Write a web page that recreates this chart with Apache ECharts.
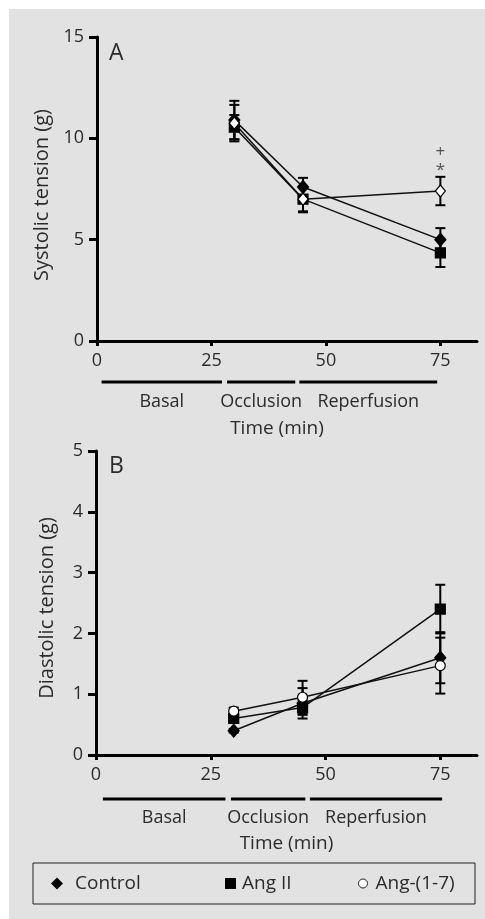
<!DOCTYPE html>
<html><head><meta charset="utf-8">
<script src="https://cdn.jsdelivr.net/npm/echarts@6/dist/echarts.min.js"></script>
<style>html,body{margin:0;padding:0;background:#fff}#c{width:485px;height:919px}</style>
</head><body><div id="c"></div>
<script>
// ---- data ----
const times = [30, 45, 75];
const xTicks = [0, 25, 50, 75];
// Panel A: systolic tension (g)
const sysControl = [10.9, 7.6, 5.0];
const sysControlErr = [0.95, 0.45, 0.57];
const sysAngII = [10.55, 7.0, 4.35];
const sysAngIIErr = [0.6, 0.6, 0.7];
const sysAng17 = [10.75, 7.0, 7.4];
const sysAng17Err = [0.9, 0.65, 0.7];
const sysTicks = [0, 5, 10, 15];
const sysMarks = [[75, 9.3, '+'], [75, 8.45, '*']];
const sysPhases = [[1, 27.3, 'Basal'], [28.4, 43.3, 'Occlusion'], [44.2, 74.3, 'Reperfusion']];
// Panel B: diastolic tension (g)
const diaControl = [0.4, 0.85, 1.6];
const diaControlErr = [0.03, 0.25, 0.42];
const diaAngII = [0.6, 0.78, 2.4];
const diaAngIIErr = [0.05, 0.12, 0.4];
const diaAng17 = [0.72, 0.95, 1.47];
const diaAng17Err = [0.06, 0.27, 0.46];
const diaTicks = [0, 1, 2, 3, 4, 5];
const diaPhases = [[1.5, 28.2, 'Basal'], [29.4, 45.6, 'Occlusion'], [46.6, 75.4, 'Reperfusion']];

const FONT = '"Open Sans", "Liberation Sans", sans-serif';
const TXT = '#2b2b2b';
const chart = echarts.init(document.getElementById('c'));

function pts(vals){ return times.map((t,i)=>[t, vals[i]]); }
function errs(vals, e){ return times.map((t,i)=>[t, vals[i]-e[i], vals[i]+e[i]]); }

function errSeries(name, gi, vals, e){
  return {
    type:'custom', name:name, xAxisIndex:gi, yAxisIndex:gi, z:3,
    data: errs(vals, e), clip:false,
    renderItem:function(params, api){
      const x=api.value(0), lo=api.value(1), hi=api.value(2);
      const a=api.coord([x,hi]), b=api.coord([x,lo]); const w=5;
      const st={stroke:'#000', lineWidth:2};
      return {type:'group', children:[
        {type:'line', shape:{x1:a[0],y1:a[1],x2:b[0],y2:b[1]}, style:st},
        {type:'line', shape:{x1:a[0]-w,y1:a[1],x2:a[0]+w,y2:a[1]}, style:st},
        {type:'line', shape:{x1:b[0]-w,y1:b[1],x2:b[0]+w,y2:b[1]}, style:st}
      ]};
    }
  };
}
function lineSeries(name, gi, vals, symbol, size, fill, z){
  return {
    type:'line', name:name, xAxisIndex:gi, yAxisIndex:gi, data:pts(vals), z:z,
    symbol:symbol, symbolSize:size, showSymbol:true,
    lineStyle:{color:'#111', width:1.5},
    itemStyle:{color:fill, borderColor:'#000', borderWidth:1.2, opacity:1},
    emphasis:{disabled:true}
  };
}
function phaseSeries(gi, phases, barOff, textOff){
  return {
    type:'custom', xAxisIndex:gi, yAxisIndex:gi, clip:false, silent:true, z:5,
    data: phases,
    renderItem:function(params, api){
      const s=api.value(0), e=api.value(1);
      const p0=api.coord([s,0]), p1=api.coord([e,0]);
      const y=p0[1]+barOff;
      return {type:'group', children:[
        {type:'line', shape:{x1:p0[0],y1:y,x2:p1[0],y2:y}, style:{stroke:'#000', lineWidth:3}},
        {type:'text', style:{text:phases[params.dataIndex][2], x:(p0[0]+p1[0])/2, y:p0[1]+textOff,
          align:'center', verticalAlign:'middle', font:'18px '+FONT, fill:TXT}}
      ]};
    }
  };
}
function xAxis(gi, namePad, gap){
  return {
    type:'value', gridIndex:gi, min:0, max:83, interval:25,
    name:'Time (min)', nameLocation:'middle', nameGap:gap,
    nameTextStyle:{fontFamily:FONT, fontSize:19, color:TXT, padding:namePad},
    axisLine:{show:true, lineStyle:{color:'#000', width:3}},
    axisTick:{show:true, length:5, lineStyle:{color:'#000', width:3}, customValues:xTicks},
    axisLabel:{show:true, fontFamily:FONT, fontSize:18, color:TXT, margin:11, customValues:xTicks},
    splitLine:{show:false}
  };
}
function yAxis(gi, max, interval, name, gap, pad){
  return {
    type:'value', gridIndex:gi, min:0, max:max, interval:interval,
    name:name, nameLocation:'middle', nameGap:gap,
    nameTextStyle:{fontFamily:FONT, fontSize:20, color:TXT, padding:pad},
    axisLine:{show:true, lineStyle:{color:'#000', width:3}},
    axisTick:{show:true, length:8, lineStyle:{color:'#000', width:3}},
    axisLabel:{fontFamily:FONT, fontSize:18, color:TXT, margin:13},
    splitLine:{show:false}
  };
}

chart.setOption({
  animation:false,
  backgroundColor:'#ffffff',
  graphic:[
    {type:'rect', z:-10, silent:true, shape:{x:9, y:9, width:476, height:910}, style:{fill:'#e2e2e2'}},
    {type:'rect', z:10, silent:true, shape:{x:33, y:863, width:442, height:41}, style:{fill:'none', stroke:'#222', lineWidth:1}}
  ],
  title:[
    {text:'A', left:104, top:37, textStyle:{fontFamily:FONT, fontSize:23, fontWeight:'normal', color:TXT}},
    {text:'B', left:104, top:450, textStyle:{fontFamily:FONT, fontSize:23, fontWeight:'normal', color:TXT}}
  ],
  legend:[
    {left:51, top:874, padding:0, itemWidth:12, itemHeight:12, selectedMode:false,
      data:[{name:'Control', icon:'diamond', itemStyle:{color:'#000', borderWidth:0}}],
      textStyle:{fontFamily:FONT, fontSize:19, color:TXT, padding:[0,0,0,7]}},
    {left:225, top:874, padding:0, itemWidth:11, itemHeight:11, selectedMode:false,
      data:[{name:'Ang II', icon:'rect', itemStyle:{color:'#000', borderWidth:0}}],
      textStyle:{fontFamily:FONT, fontSize:19, color:TXT, padding:[0,0,0,1]}},
    {left:358, top:874, padding:0, itemWidth:9, itemHeight:9, selectedMode:false,
      data:[{name:'Ang-(1-7)', icon:'circle', itemStyle:{color:'#fff', borderColor:'#222', borderWidth:1}}],
      textStyle:{fontFamily:FONT, fontSize:19, color:TXT, padding:[0,0,0,3]}}
  ],
  grid:[
    {left:97, top:37, width:380, height:304},
    {left:96, top:451, width:381, height:304}
  ],
  xAxis:[xAxis(0,[0,20,0,0],78), xAxis(1,[0,0,0,0],79)],
  yAxis:[yAxis(0,15,5,'Systolic tension (g)',37,[0,12,0,0]), yAxis(1,5,1,'Diastolic tension (g)',39,[0,10,0,0])],
  series:[
    errSeries('Control',0,sysControl,sysControlErr),
    errSeries('Ang II',0,sysAngII,sysAngIIErr),
    errSeries('Ang-(1-7)',0,sysAng17,sysAng17Err),
    lineSeries('Control',0,sysControl,'diamond',[11,13],'#000',6),
    lineSeries('Ang II',0,sysAngII,'rect',10,'#000',6),
    lineSeries('Ang-(1-7)',0,sysAng17,'diamond',[10,12],'#fff',7),
    {type:'scatter', xAxisIndex:0, yAxisIndex:0, symbolSize:0, silent:true, z:8,
      data:sysMarks.map(m=>({value:[m[0],m[1]], label:{show:true, formatter:m[2], position:'inside', fontFamily:FONT, fontSize:17, color:TXT}}))},
    phaseSeries(0, sysPhases, 41, 61),
    errSeries('Control',1,diaControl,diaControlErr),
    errSeries('Ang II',1,diaAngII,diaAngIIErr),
    errSeries('Ang-(1-7)',1,diaAng17,diaAng17Err),
    lineSeries('Control',1,diaControl,'diamond',[11,13],'#000',6),
    lineSeries('Ang II',1,diaAngII,'rect',10,'#000',6),
    lineSeries('Ang-(1-7)',1,diaAng17,'circle',10,'#fff',7),
    phaseSeries(1, diaPhases, 44, 63)
  ]
});
</script></body></html>
